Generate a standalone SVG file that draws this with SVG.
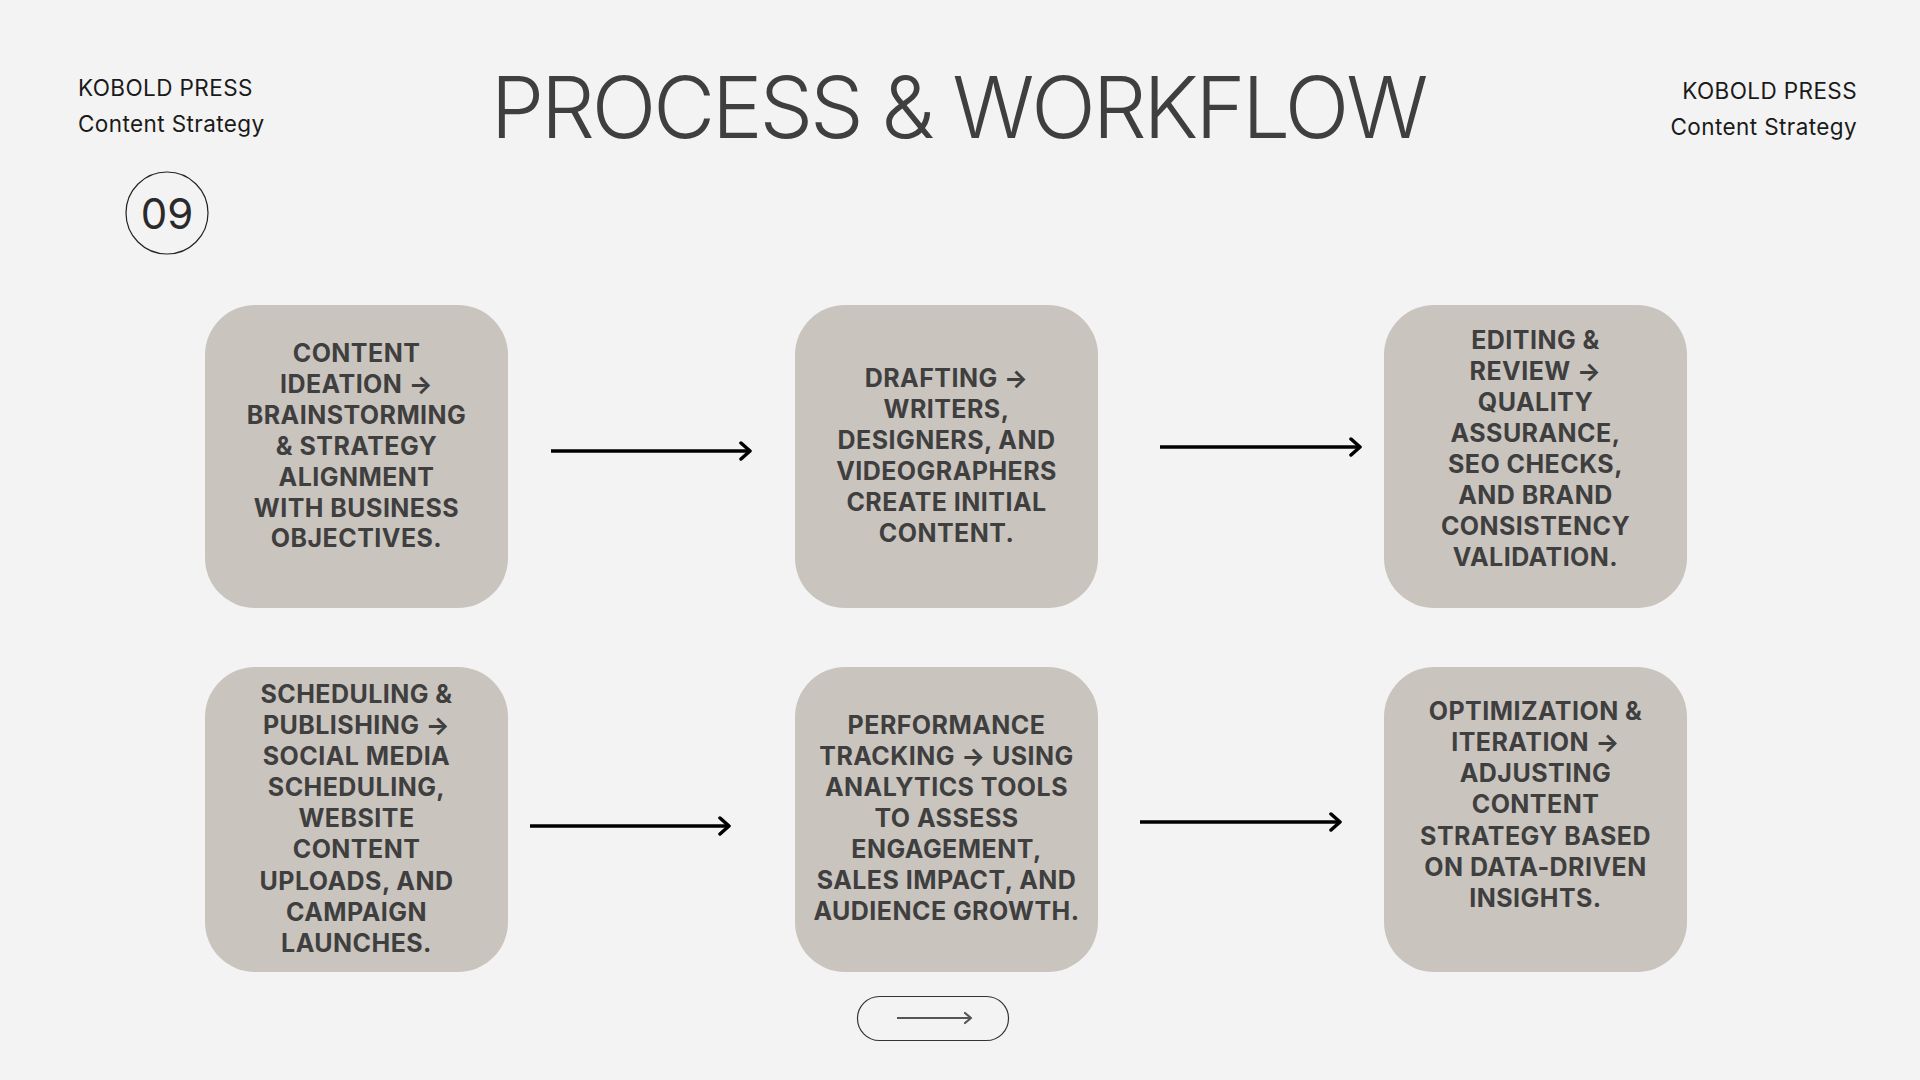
<svg xmlns="http://www.w3.org/2000/svg" width="1920" height="1080" viewBox="0 0 1920 1080">
<defs>
<style>
.bg{fill:#f3f3f3}
.box{fill:#cac4be}
.nt{font-family:Inter,"Liberation Sans",sans-serif;font-weight:700;font-size:25px;letter-spacing:0.45px;fill:#3f3f3f;text-anchor:middle}
.hd{font-family:Inter,"Liberation Sans",sans-serif;font-size:22.5px;letter-spacing:0.4px;fill:#1a1a1a}
.title{font-family:Inter,"Liberation Sans",sans-serif;font-weight:300;font-size:85px;letter-spacing:-3.1px;fill:#3f3f3f;text-anchor:middle}
.conn{stroke:#000;stroke-width:3.5;fill:none}
</style>
<marker id="ah" markerUnits="userSpaceOnUse" markerWidth="20" markerHeight="20" viewBox="-12 -10 14 20" refX="0" refY="0" orient="auto">
<path d="M-9,-8 L0,0 L-9,8" fill="none" stroke="#000" stroke-width="3.5" stroke-linecap="round" stroke-linejoin="round"/>
</marker>
<marker id="ah2" markerUnits="userSpaceOnUse" markerWidth="14" markerHeight="14" viewBox="-8 -7 10 14" refX="0" refY="0" orient="auto">
<path d="M-6,-5 L0,0 L-6,5" fill="none" stroke="#555" stroke-width="2.2" stroke-linecap="round" stroke-linejoin="round"/>
</marker>
</defs>
<rect class="bg" x="0" y="0" width="1920" height="1080"/>

<g id="header">
<text class="hd" x="78" y="96">KOBOLD PRESS</text>
<text class="hd" x="78" y="132">Content Strategy</text>
<text class="hd" x="1857" y="99" text-anchor="end">KOBOLD PRESS</text>
<text class="hd" x="1857" y="135" text-anchor="end">Content Strategy</text>
<text class="title" x="958" y="138">PROCESS &amp; WORKFLOW</text>
<circle cx="167" cy="213" r="41" fill="none" stroke="#222" stroke-width="1.2"/>
<text x="167" y="229" text-anchor="middle" font-family="Inter,'Liberation Sans',sans-serif" font-size="42" fill="#2a2a2a">09</text>
</g>

<g id="connectors">
<line class="conn" x1="551" y1="451" x2="750" y2="451" marker-end="url(#ah)"/>
<line class="conn" x1="1160" y1="447" x2="1360" y2="447" marker-end="url(#ah)"/>
<line class="conn" x1="530" y1="826" x2="729" y2="826" marker-end="url(#ah)"/>
<line class="conn" x1="1140" y1="822" x2="1340" y2="822" marker-end="url(#ah)"/>
</g>

<g id="node1">
<rect class="box" x="205" y="305" width="303" height="303" rx="50"/>
<text class="nt"><tspan x="356.5" y="362">CONTENT</tspan><tspan x="356.5" y="393">IDEATION →</tspan><tspan x="356.5" y="424">BRAINSTORMING</tspan><tspan x="356.5" y="455">&amp; STRATEGY</tspan><tspan x="356.5" y="486">ALIGNMENT</tspan><tspan x="356.5" y="517">WITH BUSINESS</tspan><tspan x="356.5" y="547">OBJECTIVES.</tspan></text>
</g>
<g id="node2">
<rect class="box" x="795" y="305" width="303" height="303" rx="50"/>
<text class="nt"><tspan x="946.5" y="387">DRAFTING →</tspan><tspan x="946.5" y="418">WRITERS,</tspan><tspan x="946.5" y="449">DESIGNERS, AND</tspan><tspan x="946.5" y="480">VIDEOGRAPHERS</tspan><tspan x="946.5" y="511">CREATE INITIAL</tspan><tspan x="946.5" y="542">CONTENT.</tspan></text>
</g>
<g id="node3">
<rect class="box" x="1384" y="305" width="303" height="303" rx="50"/>
<text class="nt"><tspan x="1535.5" y="349">EDITING &amp;</tspan><tspan x="1535.5" y="380">REVIEW →</tspan><tspan x="1535.5" y="411">QUALITY</tspan><tspan x="1535.5" y="442">ASSURANCE,</tspan><tspan x="1535.5" y="473">SEO CHECKS,</tspan><tspan x="1535.5" y="504">AND BRAND</tspan><tspan x="1535.5" y="535">CONSISTENCY</tspan><tspan x="1535.5" y="566">VALIDATION.</tspan></text>
</g>
<g id="node4">
<rect class="box" x="205" y="667" width="303" height="305" rx="50"/>
<text class="nt"><tspan x="356.5" y="703">SCHEDULING &amp;</tspan><tspan x="356.5" y="734">PUBLISHING →</tspan><tspan x="356.5" y="765">SOCIAL MEDIA</tspan><tspan x="356.5" y="796">SCHEDULING,</tspan><tspan x="356.5" y="827">WEBSITE</tspan><tspan x="356.5" y="858">CONTENT</tspan><tspan x="356.5" y="890">UPLOADS, AND</tspan><tspan x="356.5" y="921">CAMPAIGN</tspan><tspan x="356.5" y="952">LAUNCHES.</tspan></text>
</g>
<g id="node5">
<rect class="box" x="795" y="667" width="303" height="305" rx="50"/>
<text class="nt"><tspan x="946.5" y="734">PERFORMANCE</tspan><tspan x="946.5" y="765">TRACKING → USING</tspan><tspan x="946.5" y="796">ANALYTICS TOOLS</tspan><tspan x="946.5" y="827">TO ASSESS</tspan><tspan x="946.5" y="858">ENGAGEMENT,</tspan><tspan x="946.5" y="889">SALES IMPACT, AND</tspan><tspan x="946.5" y="920">AUDIENCE GROWTH.</tspan></text>
</g>
<g id="node6">
<rect class="box" x="1384" y="667" width="303" height="305" rx="50"/>
<text class="nt"><tspan x="1535.5" y="720">OPTIMIZATION &amp;</tspan><tspan x="1535.5" y="751">ITERATION →</tspan><tspan x="1535.5" y="782">ADJUSTING</tspan><tspan x="1535.5" y="813">CONTENT</tspan><tspan x="1535.5" y="845">STRATEGY BASED</tspan><tspan x="1535.5" y="876">ON DATA-DRIVEN</tspan><tspan x="1535.5" y="907">INSIGHTS.</tspan></text>
</g>

<g id="next-button">
<rect x="857.5" y="996.5" width="151" height="44" rx="22" fill="none" stroke="#333" stroke-width="1.2"/>
<line x1="897" y1="1018" x2="971" y2="1018" stroke="#555" stroke-width="2.2" marker-end="url(#ah2)"/>
</g>
</svg>
